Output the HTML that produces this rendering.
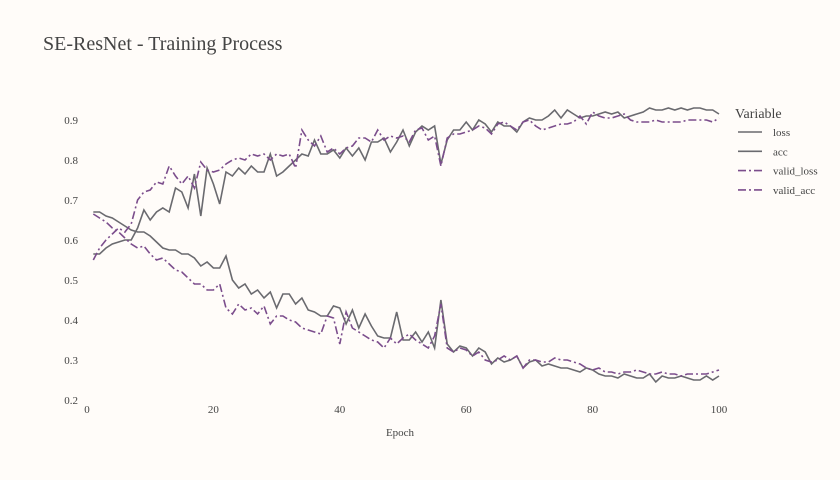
<!DOCTYPE html>
<html><head><meta charset="utf-8"><style>
body{margin:0;background:#fffcf9;}
svg{display:block;font-family:"Liberation Serif",serif;}
</style></head><body>
<svg width="840" height="480">
<rect width="840" height="480" fill="#fffcf9"/>
<text x="43" y="50" font-size="20" fill="#444">SE-ResNet - Training Process</text>
<g id="yaxis"></g>
<g id="xaxis"></g>
<text x="400" y="436" font-size="11" fill="#444" text-anchor="middle">Epoch</text>
<g id="series"></g>
<g id="legend">
<text x="735" y="118" font-size="14" fill="#444">Variable</text>
</g>
</svg>
<script>
const yTicks=[0.2,0.3,0.4,0.5,0.6,0.7,0.8,0.9];
const xTicks=[0,20,40,60,80,100];
const seriesNames=["loss","acc","valid_loss","valid_acc"];
const lossVals=[.67,.67,.66,.655,.645,.635,.625,.62,.62,.61,.595,.58,.575,.575,.565,.565,.555,.535,.545,.53,.53,.56,.50,.48,.49,.465,.475,.455,.47,.43,.465,.465,.44,.455,.425,.42,.41,.41,.435,.43,.39,.425,.38,.415,.385,.36,.355,.355,.42,.35,.35,.37,.345,.37,.33,.45,.34,.32,.335,.33,.31,.33,.32,.29,.305,.295,.30,.31,.28,.295,.30,.285,.29,.285,.28,.28,.275,.27,.28,.275,.265,.26,.26,.255,.265,.26,.255,.255,.265,.245,.26,.255,.255,.26,.255,.25,.25,.26,.25,.26];
const accVals=[.565,.565,.58,.59,.595,.60,.60,.63,.675,.65,.67,.68,.67,.73,.72,.68,.765,.66,.78,.74,.69,.77,.76,.78,.765,.785,.77,.77,.815,.76,.77,.785,.80,.815,.81,.85,.815,.815,.825,.805,.83,.81,.83,.80,.845,.845,.855,.82,.845,.875,.835,.87,.885,.875,.885,.79,.85,.875,.875,.895,.875,.90,.89,.87,.895,.885,.885,.87,.895,.905,.90,.90,.91,.925,.905,.925,.915,.905,.91,.91,.915,.92,.915,.92,.905,.91,.915,.92,.93,.925,.925,.93,.925,.93,.925,.93,.93,.925,.925,.915];
const validLossVals=[.665,.655,.645,.63,.62,.605,.59,.58,.585,.565,.55,.555,.54,.525,.52,.505,.49,.49,.475,.475,.49,.43,.415,.44,.425,.43,.415,.435,.39,.41,.41,.40,.395,.38,.375,.37,.365,.41,.405,.34,.42,.38,.37,.36,.35,.345,.33,.355,.34,.355,.365,.35,.34,.33,.36,.44,.33,.32,.33,.325,.31,.32,.30,.295,.30,.31,.30,.31,.28,.30,.30,.295,.295,.305,.30,.30,.295,.29,.28,.275,.28,.27,.27,.265,.27,.27,.275,.27,.265,.265,.27,.265,.265,.26,.265,.265,.265,.265,.27,.275];
const validAccVals=[.55,.58,.60,.615,.63,.62,.64,.70,.72,.725,.745,.74,.785,.76,.74,.76,.73,.795,.775,.77,.775,.79,.80,.805,.80,.815,.81,.815,.80,.815,.81,.815,.78,.875,.85,.835,.86,.82,.83,.815,.83,.835,.855,.855,.845,.875,.85,.86,.855,.86,.845,.875,.88,.85,.86,.785,.855,.865,.865,.87,.875,.885,.88,.865,.89,.895,.885,.875,.895,.90,.885,.875,.88,.885,.89,.89,.895,.91,.89,.92,.91,.905,.905,.91,.915,.90,.895,.895,.895,.90,.895,.895,.895,.895,.90,.90,.90,.90,.895,.905];
const NS="http://www.w3.org/2000/svg";
const xs=e=>87+(e)*6.32;
const ys=v=>120+(0.9-v)*400;
const ya=document.getElementById('yaxis');
yTicks.forEach(t=>{const tx=document.createElementNS(NS,'text');
tx.setAttribute('x',78);tx.setAttribute('y',ys(t)+4);tx.setAttribute('font-size','11');tx.setAttribute('fill','#444');tx.setAttribute('text-anchor','end');tx.textContent=t.toFixed(1);


ya.appendChild(tx);});
const xa=document.getElementById('xaxis');
xTicks.forEach(t=>{const tx=document.createElementNS(NS,'text');
tx.setAttribute('x',xs(t));tx.setAttribute('y',413);tx.setAttribute('font-size','11');tx.setAttribute('fill','#444');tx.setAttribute('text-anchor','middle');tx.textContent=t;


xa.appendChild(tx);});
const all=[lossVals,accVals,validLossVals,validAccVals];
const colors=["#6a6a6f","#6a6a6f","#7b4d8c","#7b4d8c"];
const dashes=["","","8,3,2,3","8,3,2,3"];
const sg=document.getElementById('series');
all.forEach((arr,i)=>{const p=document.createElementNS(NS,'polyline');
p.setAttribute('points',arr.map((v,j)=>xs(j+1).toFixed(1)+','+ys(v).toFixed(1)).join(' '));
p.setAttribute('fill','none');p.setAttribute('stroke',colors[i]);p.setAttribute('stroke-width','1.6');
if(dashes[i])p.setAttribute('stroke-dasharray',dashes[i]);


sg.appendChild(p);});
const lg=document.getElementById('legend');
seriesNames.forEach((n,i)=>{const y=132+i*19.3;
const l=document.createElementNS(NS,'line');
l.setAttribute('x1',738);l.setAttribute('x2',762);l.setAttribute('y1',y);l.setAttribute('y2',y);
l.setAttribute('stroke',colors[i]);l.setAttribute('stroke-width','1.6');if(dashes[i])l.setAttribute('stroke-dasharray',dashes[i]);


lg.appendChild(l);
const t=document.createElementNS(NS,'text');
t.setAttribute('x',773);t.setAttribute('y',y+4);t.setAttribute('font-size','11');t.setAttribute('fill','#444');t.textContent=n;


lg.appendChild(t);});
</script>
</body></html>
